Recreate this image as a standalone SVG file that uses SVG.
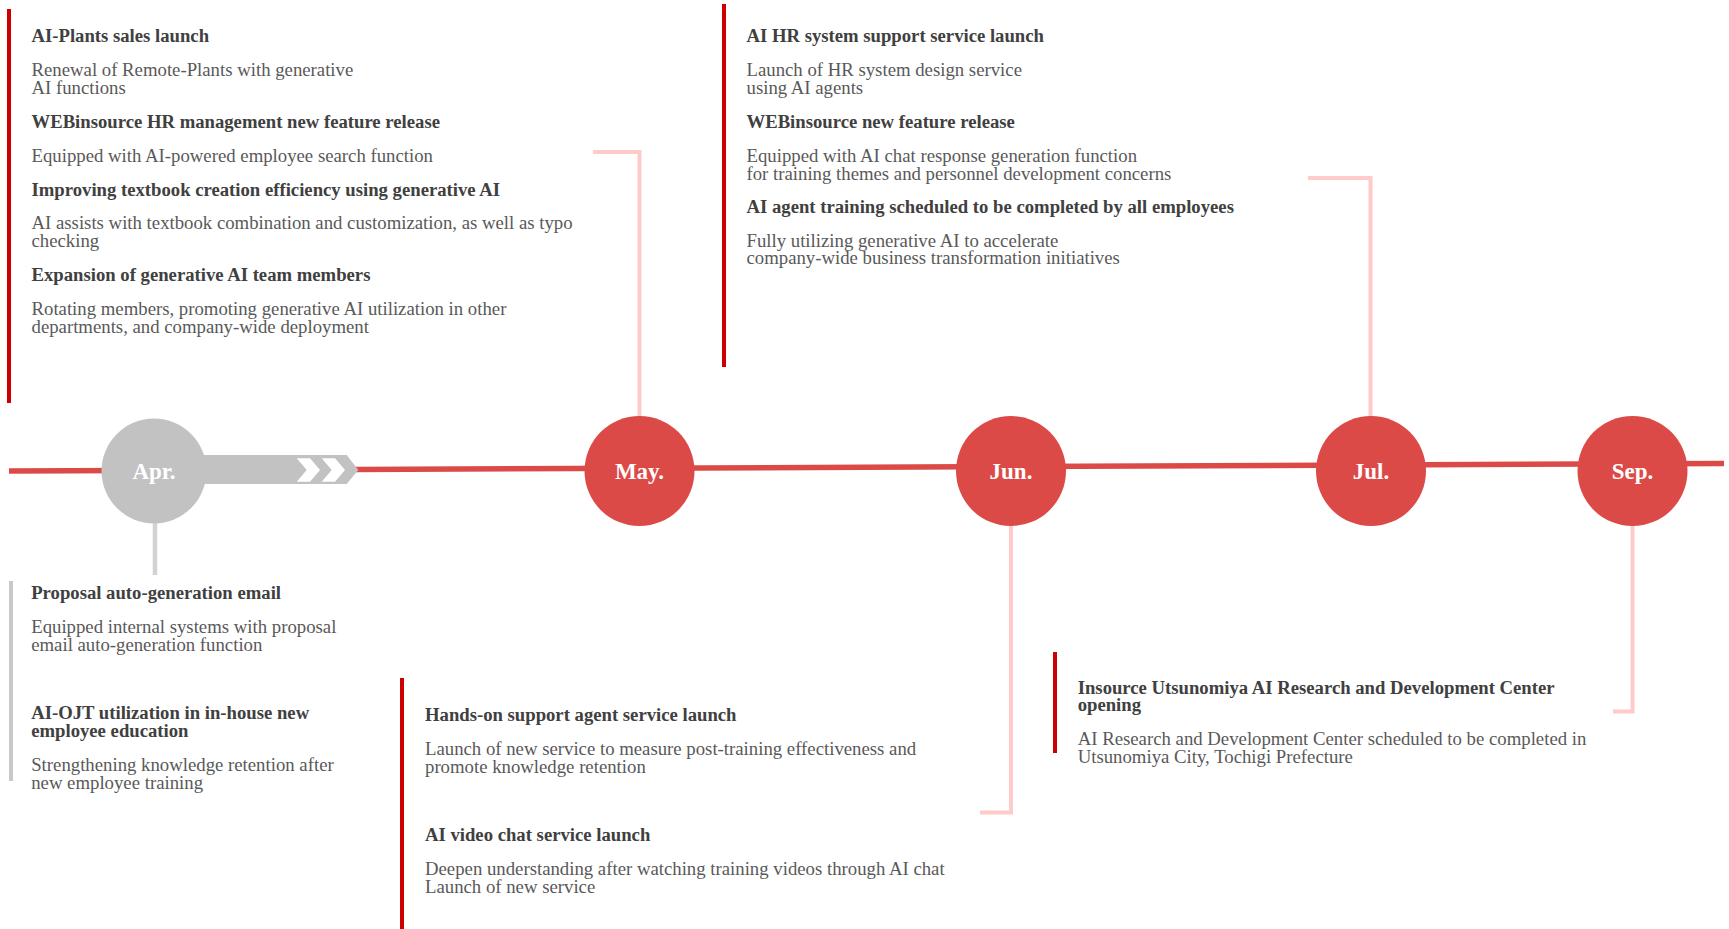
<svg xmlns="http://www.w3.org/2000/svg" width="1729" height="929" viewBox="0 0 1729 929">
<style>
  .t{font-family:"Liberation Serif","Times New Roman",serif;font-size:18.7px;font-weight:bold;fill:#404040}
  .b{font-family:"Liberation Serif","Times New Roman",serif;font-size:18.75px;fill:#595959}
  .m{font-family:"Liberation Serif","Times New Roman",serif;font-size:23px;font-weight:bold;fill:#ffffff;text-anchor:middle}
  .bar{fill:#CC0000}
  .gbar{fill:#C8C8C8}
  .pink{fill:none;stroke:#FFCACA;stroke-width:4}
  .red{fill:#DC4A48}
</style>
<rect width="1729" height="929" fill="#ffffff"/>
<!-- timeline -->
<g id="timeline">
  <line x1="9" y1="471" x2="1724" y2="463.5" stroke="#DC4A48" stroke-width="5.5"/>
  <path d="M190 455 L346.7 455 L358.3 470 L346.7 484 L190 484 Z" fill="#C2C2C2"/>
  <polygon points="296.7,458.3 310,458.3 320,470 310,481.7 296.7,481.7 306.7,470" fill="#ffffff"/>
  <polygon points="321.7,458.3 335,458.3 345,470 335,481.7 321.7,481.7 331.7,470" fill="#ffffff"/>
</g>
<!-- connectors -->
<g id="connectors">
  <line x1="155" y1="522" x2="155" y2="575" stroke="#D3D3D3" stroke-width="4.5"/>
  <polyline class="pink" points="593,152 639.5,152 639.5,418"/>
  <polyline class="pink" points="1011,524 1011,812.5 980,812.5"/>
  <polyline class="pink" points="1308,178 1370.5,178 1370.5,418"/>
  <polyline class="pink" points="1632.5,524 1632.5,711.5 1613,711.5"/>
</g>
<!-- months -->
<g id="apr">
  <circle cx="154" cy="471" r="52.5" fill="#C2C2C2"/>
  <text class="m" x="154" y="479">Apr.</text>
</g>
<g id="may">
  <circle class="red" cx="639.5" cy="471" r="55"/>
  <text class="m" x="639.5" y="479">May.</text>
</g>
<g id="jun">
  <circle class="red" cx="1011" cy="471" r="55"/>
  <text class="m" x="1011" y="479">Jun.</text>
</g>
<g id="jul">
  <circle class="red" cx="1371" cy="471" r="55"/>
  <text class="m" x="1371" y="479">Jul.</text>
</g>
<g id="sep">
  <circle class="red" cx="1632.5" cy="471" r="55"/>
  <text class="m" x="1632.5" y="479">Sep.</text>
</g>
<!-- text blocks -->
<g id="block-may">
  <rect class="bar" x="7" y="9" width="4" height="394"/>
  <text class="t" x="31.5" y="42">AI-Plants sales launch</text>
  <text class="b" x="31.5" y="76">Renewal of Remote-Plants with generative</text>
  <text class="b" x="31.5" y="94">AI functions</text>
  <text class="t" x="31.5" y="128">WEBinsource HR management new feature release</text>
  <text class="b" x="31.5" y="162">Equipped with AI-powered employee search function</text>
  <text class="t" x="31.5" y="196">Improving textbook creation efficiency using generative AI</text>
  <text class="b" x="31.5" y="229">AI assists with textbook combination and customization, as well as typo</text>
  <text class="b" x="31.5" y="247">checking</text>
  <text class="t" x="31.5" y="281">Expansion of generative AI team members</text>
  <text class="b" x="31.5" y="315">Rotating members, promoting generative AI utilization in other</text>
  <text class="b" x="31.5" y="333">departments, and company-wide deployment</text>
</g>
<g id="block-jul">
  <rect class="bar" x="722" y="4" width="4" height="363"/>
  <text class="t" x="746.5" y="42">AI HR system support service launch</text>
  <text class="b" x="746.5" y="76">Launch of HR system design service</text>
  <text class="b" x="746.5" y="94">using AI agents</text>
  <text class="t" x="746.5" y="128">WEBinsource new feature release</text>
  <text class="b" x="746.5" y="162">Equipped with AI chat response generation function</text>
  <text class="b" x="746.5" y="179.5">for training themes and personnel development concerns</text>
  <text class="t" x="746.5" y="213">AI agent training scheduled to be completed by all employees</text>
  <text class="b" x="746.5" y="246.5">Fully utilizing generative AI to accelerate</text>
  <text class="b" x="746.5" y="264">company-wide business transformation initiatives</text>
</g>
<g id="block-apr">
  <rect class="gbar" x="9" y="581" width="4" height="200"/>
  <text class="t" x="31.2" y="598.5">Proposal auto-generation email</text>
  <text class="b" x="31.2" y="632.7">Equipped internal systems with proposal</text>
  <text class="b" x="31.2" y="650.7">email auto-generation function</text>
  <text class="t" x="31.2" y="719.3">AI-OJT utilization in in-house new</text>
  <text class="t" x="31.2" y="736.7">employee education</text>
  <text class="b" x="31.2" y="770.7">Strengthening knowledge retention after</text>
  <text class="b" x="31.2" y="789">new employee training</text>
</g>
<g id="block-jun">
  <rect class="bar" x="400" y="678" width="4" height="251"/>
  <text class="t" x="425" y="720.7">Hands-on support agent service launch</text>
  <text class="b" x="425" y="755">Launch of new service to measure post-training effectiveness and</text>
  <text class="b" x="425" y="772.7">promote knowledge retention</text>
  <text class="t" x="425" y="840.7">AI video chat service launch</text>
  <text class="b" x="425" y="875">Deepen understanding after watching training videos through AI chat</text>
  <text class="b" x="425" y="892.7">Launch of new service</text>
</g>
<g id="block-sep">
  <rect class="bar" x="1053" y="652" width="4" height="101"/>
  <text class="t" x="1077.7" y="694">Insource Utsunomiya AI Research and Development Center</text>
  <text class="t" x="1077.7" y="710.7">opening</text>
  <text class="b" x="1077.7" y="745">AI Research and Development Center scheduled to be completed in</text>
  <text class="b" x="1077.7" y="762.7">Utsunomiya City, Tochigi Prefecture</text>
</g>
</svg>
